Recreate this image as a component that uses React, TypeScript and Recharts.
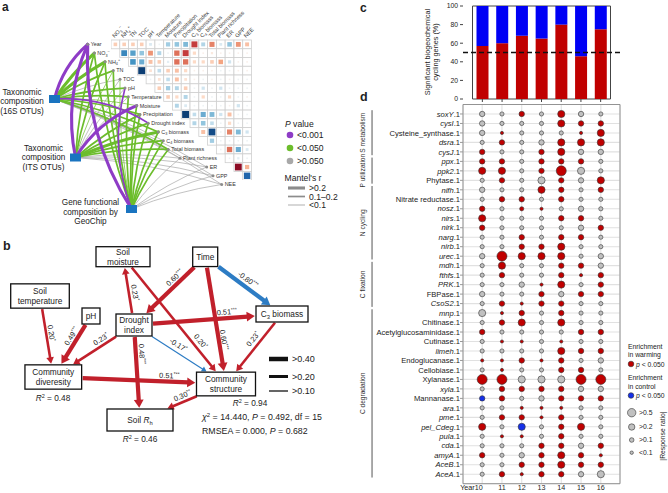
import React from "react"
import {
  ScatterChart,
  Scatter,
  BarChart,
  Bar,
  XAxis,
  YAxis,
  ZAxis,
  ReferenceLine,
  ReferenceArea,
  CartesianGrid,
} from "recharts"

const FONT = "'Liberation Sans', Arial, Helvetica, sans-serif"
const INK = "#222"

// ---------- a : environmental variables, correlations, Mantel tests ----------
const envVars = [
  "Year", "NO{_3}{^−}", "NH{_4}{^+}", "TN", "TOC", "pH", "Temperature", "Moisture",
  "Precipitation", "Drought index", "C{_3} biomass", "C{_4} biomass", "Total biomass",
  "Plant richness", "ER", "GPP", "NEE",
]

// upper triangle of the Pearson matrix, row i against variables i+1 ... NEE
const corrRows = [
  [-0.25, -0.25, -0.25, -0.25, 0.15, 0.05, 0.35, 0.4, 0.45, -0.7, 0.3, -0.5, 0.15, 0.4, -0.45, -0.3],
  [0.65, 0.55, 0.4, -0.45, 0.3, 0.05, -0.55, -0.7, -0.2, -0.05, -0.1, -0.05, -0.05, -0.05, -0.05],
  [0.6, 0.5, -0.3, -0.25, 0.1, -0.55, -0.55, -0.2, -0.2, -0.25, -0.4, 0.2, -0.05, -0.05],
  [0.95, -0.15, 0.25, -0.25, -0.3, -0.2, -0.05, -0.05, -0.05, 0.05, 0.05, -0.05, -0.05],
  [0.05, -0.15, 0.25, -0.3, -0.15, -0.05, 0.05, -0.05, 0.05, -0.05, 0.05, 0.05],
  [-0.25, 0.35, 0.3, -0.25, 0.05, 0.2, 0.05, 0.2, 0.05, 0.05, 0.05],
  [-0.25, -0.2, 0.3, 0.05, -0.2, 0.05, 0.05, -0.2, 0.05, -0.05],
  [0.3, 0.15, 0.05, 0.05, 0.05, 0.05, -0.05, 0.2, 0.05],
  [0.95, 0.25, 0.5, 0.45, 0.2, -0.3, 0.05, 0.05],
  [0.3, 0.4, 0.25, 0.05, -0.2, 0.05, 0.05],
  [-0.3, 0.9, 0.05, -0.5, 0.45, 0.2],
  [0.35, 0.05, 0.05, 0.05, 0.05],
  [0.05, -0.55, 0.5, 0.15],
  [0.05, 0.1, 0.05],
  [-0.9, -0.35],
  [0.8],
]

// Mantel test per variable: p = P<0.001, g = P<0.050, n = P>0.050 ; 3: r>0.2, 2: 0.1-0.2, 1: r<0.1
const mantel16S = ["p3", "g3", "g3", "g2", "n1", "g2", "g2", "g1", "g2", "p2", "g2", "n1", "g2", "n1", "n1", "n1", "n1"]
const mantelITS = ["p3", "g2", "g2", "g1", "n1", "n1", "n1", "p3", "g2", "g2", "g3", "g2", "g2", "n1", "n1", "n1", "n1"]
const mantelGeoChip = ["p3", "g2", "g2", "g2", "g1", "p2", "g2", "g2", "g2", "g2", "g2", "g2", "g2", "n1", "n1", "n1", "n1"]

// ---------- b : structural equation model ----------
const semFrom = ["time", "time", "time", "moist", "drought", "drought", "drought", "drought", "drought", "temp", "ph", "div", "c3", "struct"]
const semTo = ["drought", "c3", "struct", "struct", "moist", "c3", "struct", "rh", "div", "div", "div", "struct", "struct", "rh"]
const semCoef = [0.6, -0.8, 0.6, 0.2, 0.23, 0.51, -0.17, 0.48, 0.23, 0.2, 0.49, 0.51, 0.23, 0.3]
const semStars = ["***", "***", "***", "*", "*", "***", "*", "***", "*", "*", "***", "***", "*", "**"]

// ---------- c : share of significant genes ----------
const years = ["10", "11", "12", "13", "14", "15", "16"]
const warmingPct = [57, 60, 68, 65, 80, 46, 75]
const controlPct = [43, 40, 32, 35, 20, 54, 25]

// ---------- d : response ratios per gene and year ----------
const genes = [
  "soxY", "cysI", "Cysteine_synthase", "dsra", "cysJ",
  "ppx", "ppk2", "Phytase",
  "nifh", "Nitrate reductase", "nosz", "nirs", "nirk", "narg", "nirb", "urec",
  "mdh", "fthfs", "PRK", "FBPase", "CsoS2",
  "mnp", "Chitinase", "Acetylglucosaminidase", "Cutinase", "limeh", "Endoglucanase", "Cellobiase",
  "Xylanase", "xyla", "Mannanase", "ara", "pme", "pel_Cdeg", "pula", "cda", "amyA", "AceB", "AceA",
]
// r = enriched in warming, b = enriched in control, g = n.s. ; digit = |response ratio| class
const responseCodes = [
  "g3 g2 r3 g2 r4 g3 g2",
  "g3 g2 g2 g2 r4 r3 r3",
  "g3 r1 g2 g2 g2 r1 r4",
  "g2 r3 g2 g3 r4 r4 r4",
  "r3 g2 g2 r3 r4 g3 g3",
  "r3 r3 g2 r3 r3 r3 g2",
  "r4 r4 g2 r3 r5 g4 g2",
  "g2 r3 g2 g4 r3 g3 r4",
  "g3 g2 g2 r4 r3 g2 r3",
  "g2 r3 r3 g2 r3 g2 g2",
  "r3 g2 r2 r1 g2 g3 g2",
  "r4 g2 g2 g2 r3 r3 g2",
  "r3 g2 g2 g2 g2 g3 r3",
  "g2 g2 r3 g2 r3 r3 g2",
  "g2 g2 r3 r3 r4 g2 g2",
  "g3 r5 r4 r4 r4 g2 g3",
  "g2 r4 g2 g2 r3 r3 g3",
  "g2 r3 g2 g2 r3 r1 r3",
  "g2 g2 g3 r1 r4 g2 r3",
  "g3 g2 g2 r3 g3 r3 r3",
  "g2 r3 r1 r3 r3 g2 g2",
  "g4 r1 r3 g2 r3 g2 g2",
  "g2 r3 r4 g2 r4 g2 g2",
  "r3 g2 g2 g2 g2 r3 r3",
  "g2 r1 r1 g2 r1 g2 g2",
  "g2 g2 g2 g2 r4 r3 r3",
  "r1 r1 r3 r1 r3 g2 g3",
  "g2 r1 g2 g2 r3 r3 g2",
  "r5 r5 g4 g4 g4 r5 r5",
  "g2 r3 r3 r3 r3 g3 g3",
  "b3 r3 g2 g3 r3 r3 r3",
  "g2 g2 r1 r1 r1 g2 g2",
  "g2 r3 r3 r1 r3 g2 g2",
  "r4 g2 b4 g2 r3 r4 g2",
  "g2 r1 r1 g2 r3 g2 g2",
  "g2 g2 g2 r3 r3 g3 r3",
  "r3 g2 g3 r3 r4 r3 r1",
  "g2 g2 r3 r3 r4 r3 r3",
  "g2 r3 r1 r3 r3 g3 g4",
]
const ratioOfClass: Record<string, number> = { "1": 0.05, "2": 0.12, "3": 0.23, "4": 0.44, "5": 0.9 }
const geneGroups = ["S metabolism", "P utilization", "N cycling", "C fixation", "C degradation"]
const groupFirst = [0, 5, 8, 16, 21]
const groupLast = [4, 7, 15, 20, 38]

// ---------- layout (pixel space of the figure) ----------
const varDotX = [87.7, 94.3, 105, 113.3, 120, 125, 128.3, 136.7, 140, 148.3, 158.3, 163.3, 168.3, 180, 206.7, 213, 221.7]
const rowY = (i: number) => 44.3 + 8.76 * i
const netNodes = [
  { id: "16S", x: 54.5, y: 99, codes: mantel16S },
  { id: "ITS", x: 75.5, y: 157.5, codes: mantelITS },
  { id: "GeoChip", x: 131.5, y: 209, codes: mantelGeoChip },
]
const semBoxes: Record<string, any> = {
  moist: { cx: 123, cy: 256.7, w: 54, h: 20, text: ["Soil", "moisture"] },
  time: { cx: 205.2, cy: 256.8, w: 25, h: 19.5, text: ["Time"] },
  temp: { cx: 40, cy: 296, w: 58.6, h: 24.3, text: ["Soil", "temperature"] },
  ph: { cx: 91, cy: 316, w: 18, h: 16, text: ["pH"] },
  drought: { cx: 134, cy: 325, w: 36, h: 22, text: ["Drought", "index"] },
  c3: { cx: 282, cy: 314, w: 52, h: 16, text: ["C{_3} biomass"] },
  div: { cx: 53.3, cy: 377, w: 56.7, h: 24.3, text: ["Community", "diveresity"] },
  struct: { cx: 226, cy: 384, w: 59, h: 23.7, text: ["Community", "structure"] },
  rh: { cx: 140, cy: 420, w: 66, h: 22, text: ["Soil {*R}{_h}"] },
}
const semLabelT = [0.37, 0.5, 0.66, 0.7, 0.46, 0.63, 0.44, 0.31, 0.37, 0.47, 0.38, 0.67, 0.42, 0.48]
const semLabelOff = [6, -7, -5, -7, 6, -6, -7, -6, 6, -5, 6, -6, 7, 6]

const CELL = 8.78
const mantelColor: Record<string, string> = { p: "#8e3cc6", g: "#6cbd2c", n: "#a8a8a8" }
const mantelWidth = [0, 0.7, 1.7, 3.1]
const bubbleFill: Record<string, string> = { r: "#c00000", b: "#1530e8", g: "#c0c0c0" }

function rich(s: string, fs: number) {
  const parts = s.split(/(\{[_^*][^}]*\})/).filter((p) => p !== "")
  let off = 0
  return parts.map((p, i) => {
    const m = p.match(/^\{([_^*])(.*)\}$/)
    const kind = m ? m[1] : ""
    const target = kind === "_" ? fs * 0.3 : kind === "^" ? -fs * 0.45 : 0
    const dy = target - off
    off = target
    const small = kind === "_" || kind === "^"
    return (
      <tspan key={i} dy={dy} fontSize={small ? fs * 0.7 : fs} fontStyle={kind === "*" ? "italic" : undefined}>
        {m ? m[2] : p}
      </tspan>
    )
  })
}

const rdbu: [number, string][] = [
  [-1, "#67001f"], [-0.8, "#b2182b"], [-0.6, "#d6604d"], [-0.4, "#f4a582"], [-0.2, "#fddbc7"],
  [0, "#f7f7f7"], [0.2, "#d1e5f0"], [0.4, "#92c5de"], [0.6, "#4393c3"], [0.8, "#2166ac"], [1, "#053061"],
]
function corrColor(v: number) {
  for (let i = 0; i < rdbu.length - 1; i++) {
    const [a, ca] = rdbu[i]
    const [b, cb] = rdbu[i + 1]
    if (v >= a && v <= b) {
      const t = (v - a) / (b - a)
      const h = (c: string, k: number) => parseInt(c.slice(1 + 2 * k, 3 + 2 * k), 16)
      const mix = [0, 1, 2].map((k) => Math.round(h(ca, k) + (h(cb, k) - h(ca, k)) * t))
      return `rgb(${mix.join(",")})`
    }
  }
  return "#fff"
}

// ---------- a : network ----------
function MantelPath(p: any) {
  const { x1, y1, x2, y2, color, w, bend } = p
  const dx = x2 - x1
  const dy = y2 - y1
  const qx = (x1 + x2) / 2 + dy * bend
  const qy = (y1 + y2) / 2 - dx * bend
  return <path d={`M${x1},${y1} Q${qx},${qy} ${x2},${y2}`} fill="none" stroke={color} strokeWidth={w} strokeLinecap="round" />
}

function VarDot(p: any) {
  return (
    <g>
      <circle cx={p.cx} cy={p.cy} r={1.5} fill="#8c8c8c" />
      <text x={p.cx + 3} y={p.cy + 1.9} fontSize={5.4} fill="#333">
        {rich(p.payload.label, 5.4)}
      </text>
    </g>
  )
}

function NodeSquare(p: any) {
  return <rect x={p.cx - 5.5} y={p.cy - 4} width={11} height={8} fill="#1a74c0" />
}

function MantelNetwork() {
  const dots = envVars.map((label, i) => ({ x: varDotX[i], y: rowY(i), label }))
  const edges = netNodes.flatMap((n) =>
    n.codes.map((code, i) => ({ n, i, kind: code[0], r: Number(code[1]) }))
  )
  const rank: Record<string, number> = { n: 0, g: 1, p: 2 }
  edges.sort((a, b) => rank[a.kind] - rank[b.kind])
  return (
    <ScatterChart width={262} height={232} margin={{ top: 0, right: 0, bottom: 0, left: 0 }}>
      <XAxis type="number" dataKey="x" domain={[0, 262]} hide />
      <YAxis type="number" dataKey="y" domain={[0, 232]} reversed hide />
      {edges.map((e, k) => (
        <ReferenceLine
          key={k}
          ifOverflow="visible"
          segment={[{ x: e.n.x, y: e.n.y }, { x: dots[e.i].x, y: dots[e.i].y }]}
          shape={(p: any) => (
            <MantelPath {...p} color={mantelColor[e.kind]} w={mantelWidth[e.r]} bend={e.kind === "p" ? 0.16 : 0.06} />
          )}
        />
      ))}
      <Scatter data={dots} shape={VarDot} isAnimationActive={false} />
      <Scatter data={netNodes} shape={NodeSquare} isAnimationActive={false} />
    </ScatterChart>
  )
}

function CorrCell(p: any) {
  const v = p.payload.v
  const side = (CELL - 1.6) * Math.sqrt(Math.abs(v))
  return (
    <g>
      <rect x={p.cx - CELL / 2} y={p.cy - CELL / 2} width={CELL} height={CELL} fill="#fff" stroke="#cfcfcf" strokeWidth={0.8} />
      <rect x={p.cx - side / 2} y={p.cy - side / 2} width={side} height={side} fill={corrColor(v)} />
    </g>
  )
}

const HM_AXIS_H = 38
function ColTick(p: any) {
  const x = p.x - 1
  const y = HM_AXIS_H - 2
  const label = envVars[p.payload.value + 1]
  return (
    <text x={x} y={y} transform={`rotate(-45 ${x} ${y})`} fontSize={5.6} fill="#333">
      {rich(label, 5.6)}
    </text>
  )
}

function CorrMatrix() {
  const cells = corrRows.flatMap((row, r) => row.map((v, k) => ({ col: r + k, row: r, v })))
  const cols = corrRows.map((_, i) => i)
  return (
    <ScatterChart width={160.5} height={HM_AXIS_H + 140.2} margin={{ top: 0, right: 20, bottom: 0, left: 0 }}>
      <XAxis
        type="number"
        dataKey="col"
        orientation="top"
        domain={[-0.5, 15.5]}
        ticks={cols}
        interval={0}
        height={HM_AXIS_H}
        axisLine={false}
        tickLine={false}
        tick={ColTick}
      />
      <YAxis type="number" dataKey="row" domain={[-0.5, 15.5]} reversed hide />
      <Scatter data={cells} shape={CorrCell} isAnimationActive={false} />
    </ScatterChart>
  )
}

function ColorBar() {
  const ticks = [1, 0.8, 0.6, 0.4, 0.2, 0, -0.2, -0.4, -0.6, -0.8, -1]
  const fmt = (v: number) =>
    v === 1 ? "1" : v === 0 ? "0" : v === -1 ? "−1.0" : (v < 0 ? "−" : "") + Math.abs(v).toFixed(1)
  return (
    <ScatterChart width={37} height={150.7} margin={{ top: 5, right: 30, bottom: 5, left: 0 }}>
      <defs>
        <linearGradient id="rdbu" x1="0" y1="0" x2="0" y2="1">
          {rdbu.map(([v, c]) => (
            <stop key={v} offset={(1 - v) / 2} stopColor={c} />
          ))}
        </linearGradient>
      </defs>
      <XAxis type="number" dataKey="x" domain={[0, 1]} hide />
      <YAxis
        type="number"
        dataKey="y"
        orientation="right"
        domain={[-1, 1]}
        ticks={ticks}
        interval={0}
        width={30}
        tickSize={2}
        tickMargin={2}
        axisLine={false}
        stroke="#555"
        tick={{ fontSize: 5.6, fill: "#333" }}
        tickFormatter={fmt}
      />
      <ReferenceArea x1={0} x2={1} y1={-1} y2={1} fill="url(#rdbu)" fillOpacity={1} stroke="none" ifOverflow="visible" />
      <Scatter data={[]} isAnimationActive={false} />
    </ScatterChart>
  )
}

// ---------- b : SEM ----------
function SemBox(p: any) {
  const b = semBoxes[p.payload.id]
  const n = b.text.length
  return (
    <g>
      <rect x={p.cx - b.w / 2} y={p.cy - b.h / 2} width={b.w} height={b.h} fill="#fff" stroke="#111" strokeWidth={1.3} />
      {b.text.map((line: string, i: number) => (
        <text key={i} x={p.cx} y={p.cy + (i - (n - 1) / 2) * 9.6 + 3} textAnchor="middle" fontSize={8.3} fill={INK}>
          {rich(line, 8.3)}
        </text>
      ))}
    </g>
  )
}

function SemArrow(p: any) {
  const { x1, y1, x2, y2, from, to, coef, stars, t, off } = p
  const dx = x2 - x1
  const dy = y2 - y1
  const len = Math.hypot(dx, dy)
  const ux = dx / len
  const uy = dy / len
  const clip = (b: any) => Math.min(b.w / 2 / Math.max(Math.abs(ux), 1e-6), b.h / 2 / Math.max(Math.abs(uy), 1e-6))
  const s0 = clip(from) + 1
  const s1 = clip(to) + 1.2
  const sx = x1 + ux * s0
  const sy = y1 + uy * s0
  const ex = x2 - ux * s1
  const ey = y2 - uy * s1
  const a = Math.abs(coef)
  const w = a >= 0.4 ? 4.2 : a >= 0.19 ? 2.6 : 1.2
  const color = coef > 0 ? "#c1202b" : "#2d7cc4"
  const ah = 3.5 + w * 1.1
  const aw = 2 + w * 0.7
  const bx = ex - ux * ah
  const by = ey - uy * ah
  const nx = -uy
  const ny = ux
  const lx = x1 + dx * t + nx * off
  const ly = y1 + dy * t + ny * off
  let ang = (Math.atan2(dy, dx) * 180) / Math.PI
  if (ang > 90) ang -= 180
  if (ang < -90) ang += 180
  const txt = (coef < 0 ? "-" : "") + a.toFixed(2)
  return (
    <g>
      <line x1={sx} y1={sy} x2={bx + ux} y2={by + uy} stroke={color} strokeWidth={w} />
      <polygon points={`${ex},${ey} ${bx + nx * aw},${by + ny * aw} ${bx - nx * aw},${by - ny * aw}`} fill={color} />
      <text x={lx} y={ly + 2.5} transform={`rotate(${ang} ${lx} ${ly})`} textAnchor="middle" fontSize={7.4} fill={INK}>
        {txt}
        <tspan dy={-2.8} fontSize={5}>{stars}</tspan>
      </text>
    </g>
  )
}

function SemDiagram() {
  const nodes = Object.keys(semBoxes).map((id) => ({ id, x: semBoxes[id].cx, y: semBoxes[id].cy }))
  return (
    <ScatterChart width={340} height={240} margin={{ top: 0, right: 0, bottom: 0, left: 0 }}>
      <XAxis type="number" dataKey="x" domain={[0, 340]} hide />
      <YAxis type="number" dataKey="y" domain={[230, 470]} reversed hide />
      {semFrom.map((f, k) => {
        const A = semBoxes[f]
        const B = semBoxes[semTo[k]]
        return (
          <ReferenceLine
            key={k}
            ifOverflow="visible"
            segment={[{ x: A.cx, y: A.cy }, { x: B.cx, y: B.cy }]}
            shape={(p: any) => (
              <SemArrow {...p} from={A} to={B} coef={semCoef[k]} stars={semStars[k]} t={semLabelT[k]} off={semLabelOff[k]} />
            )}
          />
        )
      })}
      <Scatter data={nodes} shape={SemBox} isAnimationActive={false} />
    </ScatterChart>
  )
}

// ---------- c ----------
function SignificantBars() {
  const data = years.map((year, i) => ({ year, warming: warmingPct[i], control: controlPct[i] }))
  return (
    <BarChart width={186} height={103} data={data} margin={{ top: 4, right: 3, bottom: 0, left: 0 }}>
      <XAxis
        dataKey="year"
        padding={{ left: 9.5, right: 9.5 }}
        tickFormatter={() => ""}
        tickSize={3}
        axisLine={false}
        height={6}
        stroke="#444"
        interval={0}
      />
      <YAxis
        domain={[0, 100]}
        ticks={[0, 20, 40, 60, 80, 100]}
        width={26}
        tickSize={3}
        tickMargin={2}
        axisLine={false}
        stroke="#444"
        tick={{ fontSize: 6.8, fill: INK }}
      />
      <ReferenceArea y1={0} y2={100} fill="none" stroke="#444" strokeWidth={1} ifOverflow="visible" />
      <Bar dataKey="warming" stackId="s" fill="#c00000" barSize={12} isAnimationActive={false} />
      <Bar dataKey="control" stackId="s" fill="#0000f5" barSize={12} isAnimationActive={false} />
      <ReferenceLine y={50} stroke="#111" strokeWidth={1.3} strokeDasharray="5 3" />
    </BarChart>
  )
}

// ---------- d ----------
function Bubble(p: any) {
  const r = p.size ? Math.sqrt(p.size / Math.PI) : p.width / 2
  return <circle cx={p.cx} cy={p.cy} r={r} fill={bubbleFill[p.payload.c]} stroke="#333" strokeWidth={0.6} />
}

function GeneTick(p: any) {
  const name = genes[p.payload.value]
  if (name === undefined) return null
  const roman = /ase$/.test(name)
  return (
    <text x={p.x} y={p.y + 2.7} textAnchor="end" fontSize={7.6} fill={INK}>
      <tspan fontStyle={roman ? "normal" : "italic"} fill={INK}>{name}</tspan>
      <tspan fill={INK}>.1</tspan>
    </text>
  )
}

function YearTick(p: any) {
  const first = p.payload.value === 10
  return (
    <text x={first ? p.x + 0.5 : p.x} y={p.y + 4.3} textAnchor={first ? "end" : "middle"} fontSize={7.2} fill={INK}>
      {first ? "Year10" : p.payload.value}
    </text>
  )
}

function GroupBracket(p: any) {
  const { x1, y1, y2, label } = p
  const cy = (y1 + y2) / 2
  return (
    <g>
      <line x1={x1} y1={y1} x2={x1} y2={y2} stroke="#555" strokeWidth={1} />
      <text x={x1 - 7} y={cy} transform={`rotate(-90 ${x1 - 7} ${cy})`} textAnchor="middle" fontSize={6.6} fill="#333">
        {label}
      </text>
    </g>
  )
}

const GROUP_X = 4.43 // year units, left of the plot
function GeneBubbles() {
  const yearNums = years.map(Number)
  const data = genes.flatMap((_, row) =>
    responseCodes[row].split(" ").map((code, k) => ({ year: yearNums[k], row, c: code[0], z: ratioOfClass[code[1]] }))
  )
  return (
    <ScatterChart width={269} height={393} margin={{ top: 4.5, right: 2, bottom: 0, left: 0 }}>
      <CartesianGrid stroke="#e1e1e1" strokeWidth={1.1} />
      <XAxis
        type="number"
        dataKey="year"
        domain={[9.03, 16.97]}
        ticks={yearNums}
        interval={0}
        height={9.3}
        axisLine={false}
        tickLine={false}
        tickSize={0}
        tick={YearTick}
      />
      <YAxis
        type="number"
        dataKey="row"
        domain={[-1, 39]}
        reversed
        ticks={genes.map((_, i) => i)}
        interval={0}
        width={110}
        tickSize={3}
        tickMargin={0}
        axisLine={false}
        stroke="#999"
        tick={GeneTick}
      />
      <ZAxis type="number" dataKey="z" domain={[0, 1]} range={[3.85, 86.85]} />
      <ReferenceArea y1={-1} y2={39} fill="none" stroke="#8a8a8a" strokeWidth={0.9} ifOverflow="visible" />
      {geneGroups.map((g, i) => (
        <ReferenceLine
          key={g}
          ifOverflow="visible"
          segment={[{ x: GROUP_X, y: groupFirst[i] - 0.4 }, { x: GROUP_X, y: groupLast[i] + 0.35 }]}
          shape={(p: any) => <GroupBracket {...p} label={g} />}
        />
      ))}
      <Scatter data={data} shape={Bubble} isAnimationActive={false} />
    </ScatterChart>
  )
}

// ---------- static annotations ----------
function Annotations() {
  const t = (x: number, y: number, s: any, fs: number, extra: any = {}) => (
    <text x={x} y={y} fontSize={fs} fill={INK} {...extra}>
      {s}
    </text>
  )
  const nodeLabel = (cx: number, ys: number[], lines: string[]) =>
    lines.map((l, i) => t(cx, ys[i], l, 8.2, { key: l + i, textAnchor: "middle" }))
  return (
    <svg width={668} height={493} style={{ position: "absolute", left: 0, top: 0, pointerEvents: "none" }} fontFamily={FONT}>
      {t(2, 11, "a", 12, { fontWeight: "bold" })}
      {t(3, 250, "b", 12.5, { fontWeight: "bold" })}
      {t(360, 11.5, "c", 12, { fontWeight: "bold" })}
      {t(360, 101, "d", 12.5, { fontWeight: "bold" })}

      {nodeLabel(22, [94.5, 104, 113.5], ["Taxonomic", "composition", "(16S OTUs)"])}
      {nodeLabel(43.5, [150.5, 160, 169.5], ["Taxonomic", "composition", "(ITS OTUs)"])}
      {nodeLabel(90.5, [204.5, 214.5, 224], ["Gene functional", "composition by", "GeoChip"])}

      <text x={285} y={127} fontSize={8.6} fill={INK}>
        <tspan fontStyle="italic">P</tspan> value
      </text>
      {[
        ["#8e3cc6", "<0.001", 135],
        ["#6cbd2c", "<0.050", 148],
        ["#a8a8a8", ">0.050", 161],
      ].map(([c, l, y]: any) => (
        <g key={l}>
          <circle cx={290} cy={y} r={3.3} fill={c} />
          {t(297, y + 3, l, 8.6)}
        </g>
      ))}
      {t(284.5, 181, "Mantel's r", 8.6)}
      {[
        [3.1, ">0.2", 188],
        [1.7, "0.1–0.2", 196.5],
        [0.7, "<0.1", 205],
      ].map(([w, l, y]: any) => (
        <g key={l}>
          <line x1={288} x2={305} y1={y} y2={y} stroke="#8c8c8c" strokeWidth={w} />
          {t(309, y + 3, l, 8.6)}
        </g>
      ))}

      {[
        [4.5, ">0.40", 359],
        [3, ">0.20", 376.5],
        [1.3, ">0.10", 391],
      ].map(([w, l, y]: any) => (
        <g key={l}>
          <line x1={269} x2={288} y1={y} y2={y} stroke="#111" strokeWidth={w} />
          {t(292, y + 3.3, l, 9)}
        </g>
      ))}
      <text x={53} y={401} fontSize={8.3} fill={INK} textAnchor="middle">
        <tspan fontStyle="italic">R</tspan>
        <tspan dy={-3} fontSize={5.5}>2</tspan>
        <tspan dy={3}> = 0.48</tspan>
      </text>
      <text x={250} y={406} fontSize={8.3} fill={INK} textAnchor="middle">
        <tspan fontStyle="italic">R</tspan>
        <tspan dy={-3} fontSize={5.5}>2</tspan>
        <tspan dy={3}> = 0.94</tspan>
      </text>
      <text x={140} y={442} fontSize={8.3} fill={INK} textAnchor="middle">
        <tspan fontStyle="italic">R</tspan>
        <tspan dy={-3} fontSize={5.5}>2</tspan>
        <tspan dy={3}> = 0.46</tspan>
      </text>
      <text x={202} y={420} fontSize={8.8} fill={INK}>
        <tspan fontStyle="italic">χ</tspan>
        <tspan dy={-3} fontSize={6}>2</tspan>
        <tspan dy={3}> = 14.440, </tspan>
        <tspan fontStyle="italic">P</tspan>
        <tspan> = 0.492, df = 15</tspan>
      </text>
      <text x={202} y={434} fontSize={8.8} fill={INK}>
        RMSEA = 0.000, <tspan fontStyle="italic">P</tspan> = 0.682
      </text>

      <text transform="translate(430 52) rotate(-90)" fontSize={7.3} fill={INK} textAnchor="middle">
        Significant biogeochemical
      </text>
      <text transform="translate(438 52) rotate(-90)" fontSize={7.3} fill={INK} textAnchor="middle">
        cycling genes (%)
      </text>

      {t(628, 348.5, "Enrichment", 6.8)}
      {t(628, 357, "in warming", 6.8)}
      <circle cx={631} cy={364} r={2.8} fill="#c00000" stroke="#333" strokeWidth={0.6} />
      <text x={636} y={366.5} fontSize={6.8} fill={INK}>
        <tspan fontStyle="italic">p</tspan> &lt; 0.050
      </text>
      {t(628, 380, "Enrichment", 6.8)}
      {t(628, 388.5, "in control", 6.8)}
      <circle cx={631} cy={395.5} r={2.8} fill="#1530e8" stroke="#333" strokeWidth={0.6} />
      <text x={636} y={398} fontSize={6.8} fill={INK}>
        <tspan fontStyle="italic">p</tspan> &lt; 0.050
      </text>
      {[
        [4.2, ">0.5", 412.7],
        [3.2, ">0.2", 427],
        [2.3, ">0.1", 440],
        [1.7, "<0.1", 452.7],
      ].map(([r, l, y]: any) => (
        <g key={l}>
          <circle cx={631.7} cy={y} r={r} fill="#c0c0c0" stroke="#333" strokeWidth={0.6} />
          {t(639, y + 2.4, l, 6.8)}
        </g>
      ))}
      <text transform="translate(665 436) rotate(-90)" fontSize={6.8} fill={INK} textAnchor="middle">
        |Response ratio|
      </text>
    </svg>
  )
}

export default function App() {
  const abs = (left: number, top: number): React.CSSProperties => ({ position: "absolute", left, top })
  return (
    <div
      style={{
        position: "absolute",
        left: 0,
        top: 0,
        width: 668,
        height: 493,
        background: "#fff",
        fontFamily: FONT,
        overflow: "hidden",
      }}
    >
      <div style={abs(0, 0)}>
        <MantelNetwork />
      </div>
      <div style={abs(110.6, 39.9 - HM_AXIS_H)}>
        <CorrMatrix />
      </div>
      <div style={abs(259, 34.3)}>
        <ColorBar />
      </div>
      <div style={abs(0, 230)}>
        <SemDiagram />
      </div>
      <div style={abs(437, 2)}>
        <SignificantBars />
      </div>
      <div style={abs(353, 100)}>
        <GeneBubbles />
      </div>
      <Annotations />
    </div>
  )
}
